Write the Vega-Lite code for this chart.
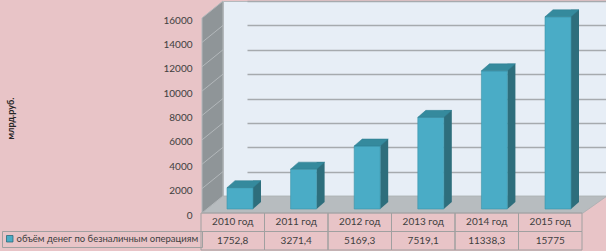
{
  "$schema": "https://vega.github.io/schema/vega-lite/v6.json",
  "width": 383,
  "height": 195,
  "autosize": {"type": "none"},
  "padding": {"left": 223, "top": 1, "right": 0, "bottom": 55},
  "background": "#e8c4c7",
  "config": {
    "view": {"fill": "#e7eef6", "stroke": "#b4b9bd", "strokeWidth": 1},
    "font": "Lato"
  },
  "datasets": {
    "d": [
      {"year": "2010 год", "value": 1752.8, "label": "1752,8", "series": "объём денег по безналичным операциям"},
      {"year": "2011 год", "value": 3271.4, "label": "3271,4", "series": "объём денег по безналичным операциям"},
      {"year": "2012 год", "value": 5169.3, "label": "5169,3", "series": "объём денег по безналичным операциям"},
      {"year": "2013 год", "value": 7519.1, "label": "7519,1", "series": "объём денег по безналичным операциям"},
      {"year": "2014 год", "value": 11338.3, "label": "11338,3", "series": "объём денег по безналичным операциям"},
      {"year": "2015 год", "value": 15775, "label": "15775", "series": "объём денег по безналичным операциям"}
    ]
  },
  "resolve": {"scale": {"x": "independent", "y": "independent", "color": "independent"}},
  "layer": [
    {
      "data": {"values": [{}]},
      "mark": {"type": "point", "shape": "M1,0 L22,-17 L406,-17 L382,0 Z", "size": 4, "filled": true, "fill": "#b7bcbf", "stroke": "#a9aeb1", "strokeWidth": 0.8, "opacity": 1},
      "encoding": {
        "x": {"datum": "2010 год", "type": "nominal", "bandPosition": 0, "scale": {"type": "band", "domain": ["2010 год", "2011 год", "2012 год", "2013 год", "2014 год", "2015 год"], "range": [-22, 359], "paddingInner": 0, "paddingOuter": 0}, "axis": null},
        "y": {"datum": "year", "type": "nominal", "bandPosition": 0, "scale": {"type": "band", "domain": ["year", "label"], "range": [212, 249], "paddingInner": 0, "paddingOuter": 0}, "axis": null}
      }
    },
    {
      "data": {"values": [{}]},
      "mark": {"type": "point", "shape": "M1,17 L1,-178 L22,-195 L22,0 Z M22,-24.4 L1,-7.4 M22,-48.75 L1,-31.75 M22,-73.1 L1,-56.1 M22,-97.5 L1,-80.5 M22,-121.9 L1,-104.9 M22,-146.25 L1,-129.25 M22,-170.6 L1,-153.6", "size": 4, "filled": true, "fill": "#8f9598", "stroke": "#b3b8bb", "strokeWidth": 1, "opacity": 1},
      "encoding": {
        "x": {"datum": "2010 год", "type": "nominal", "bandPosition": 0, "scale": {"type": "band", "domain": ["2010 год", "2011 год", "2012 год", "2013 год", "2014 год", "2015 год"], "range": [-22, 359], "paddingInner": 0, "paddingOuter": 0}, "axis": null},
        "y": {"datum": 0, "type": "quantitative", "scale": {"domain": [0, 16000]}, "axis": {"orient": "right", "grid": true, "gridColor": "#a6aaae", "gridWidth": 1.3, "labels": false, "ticks": false, "domain": false, "title": null, "values": [2000, 4000, 6000, 8000, 10000, 12000, 14000, 16000]}}
      }
    },
    {
      "data": {"name": "d"},
      "mark": {"type": "bar", "width": 8, "color": "#2e6e7c"},
      "encoding": {
        "x": {"field": "year", "type": "nominal", "scale": {"type": "band", "range": [2.2, 383.8], "paddingInner": 0, "paddingOuter": 0}, "axis": null},
        "y": {"field": "value", "type": "quantitative", "scale": {"domain": [0, 16000], "range": [201, 6]}, "axis": null}
      }
    },
    {
      "data": {"name": "d"},
      "mark": {"type": "point", "shape": "M13,0 L13,-7 L21,-7 Z", "size": 4, "filled": true, "fill": "#2e6e7c", "opacity": 1, "strokeWidth": 0},
      "encoding": {
        "x": {"field": "year", "type": "nominal", "scale": {"type": "band", "range": [-14.8, 366.8], "paddingInner": 0, "paddingOuter": 0}, "axis": null},
        "y": {"datum": 0, "type": "quantitative", "scale": {"domain": [0, 16000], "range": [208, 13]}, "axis": null}
      }
    },
    {
      "data": {"name": "d"},
      "mark": {"type": "bar", "width": 26, "stroke": "#3b93a8", "strokeWidth": 0.6},
      "encoding": {
        "x": {"field": "year", "type": "nominal", "scale": {"type": "band", "range": [-14.8, 366.8], "paddingInner": 0, "paddingOuter": 0}, "axis": null},
        "y": {"field": "value", "type": "quantitative", "scale": {"domain": [0, 16000], "range": [208, 13]},
          "axis": {"orient": "left", "offset": 21, "values": [0, 2000, 4000, 6000, 8000, 10000, 12000, 14000, 16000], "format": "d", "labelFont": "Lato", "labelFontSize": 10, "labelColor": "#404040", "labelPadding": 10, "ticks": false, "tickSize": 0, "domain": false, "grid": false, "labelOffset": 6, "labelFlush": false, "labelOverlap": false, "title": "млрд.руб.", "titleFont": "Lato", "titleFontSize": 9, "titleFontWeight": "bold", "titleColor": "#262626", "titleX": -192, "titleY": 117, "titleAngle": 270, "titleAlign": "center", "titleBaseline": "middle"}},
        "color": {"field": "series", "type": "nominal", "scale": {"range": ["#4aacc6"]},
          "legend": {"orient": "none", "legendX": -221, "legendY": 230, "title": null, "symbolType": "square", "symbolSize": 42, "symbolStrokeColor": "#2c6b7a", "symbolStrokeWidth": 0.8, "labelFontSize": 9.5, "labelColor": "#404040", "labelFont": "Lato", "strokeColor": "#a0a0a0", "padding": 3, "labelOffset": 2, "labelLimit": 300}}
      }
    },
    {
      "data": {"name": "d"},
      "mark": {"type": "point", "shape": "M-13,0 L-5,-7 L21,-7 L13,0 Z", "size": 4, "filled": true, "fill": "#358a9d", "stroke": "#2f7f92", "strokeWidth": 0.5, "opacity": 1},
      "encoding": {
        "x": {"field": "year", "type": "nominal", "scale": {"type": "band", "range": [-14.8, 366.8], "paddingInner": 0, "paddingOuter": 0}, "axis": null},
        "y": {"field": "value", "type": "quantitative", "scale": {"domain": [0, 16000], "range": [208, 13]}, "axis": null}
      }
    },
    {
      "data": {"name": "d"},
      "transform": [{"fold": ["year", "label"], "as": ["row", "cell"]}],
      "mark": {"type": "rect", "fill": "#000000", "fillOpacity": 0, "stroke": "#a0a0a0", "strokeWidth": 1},
      "encoding": {
        "x": {"field": "year", "type": "nominal", "scale": {"type": "band", "range": [-22, 359], "paddingInner": 0, "paddingOuter": 0}, "axis": null},
        "y": {"field": "row", "type": "nominal", "scale": {"type": "band", "domain": ["year", "label"], "range": [212, 249], "paddingInner": 0, "paddingOuter": 0}, "axis": null}
      }
    },
    {
      "data": {"name": "d"},
      "transform": [{"fold": ["year", "label"], "as": ["row", "cell"]}],
      "mark": {"type": "text", "font": "Lato", "fontSize": 10, "color": "#404040", "align": "center", "baseline": "middle"},
      "encoding": {
        "x": {"field": "year", "type": "nominal", "scale": {"type": "band", "range": [-22, 359], "paddingInner": 0, "paddingOuter": 0}, "axis": null},
        "y": {"field": "row", "type": "nominal", "scale": {"type": "band", "domain": ["year", "label"], "range": [212, 249], "paddingInner": 0, "paddingOuter": 0}, "axis": null},
        "text": {"field": "cell", "type": "nominal"}
      }
    }
  ]
}
